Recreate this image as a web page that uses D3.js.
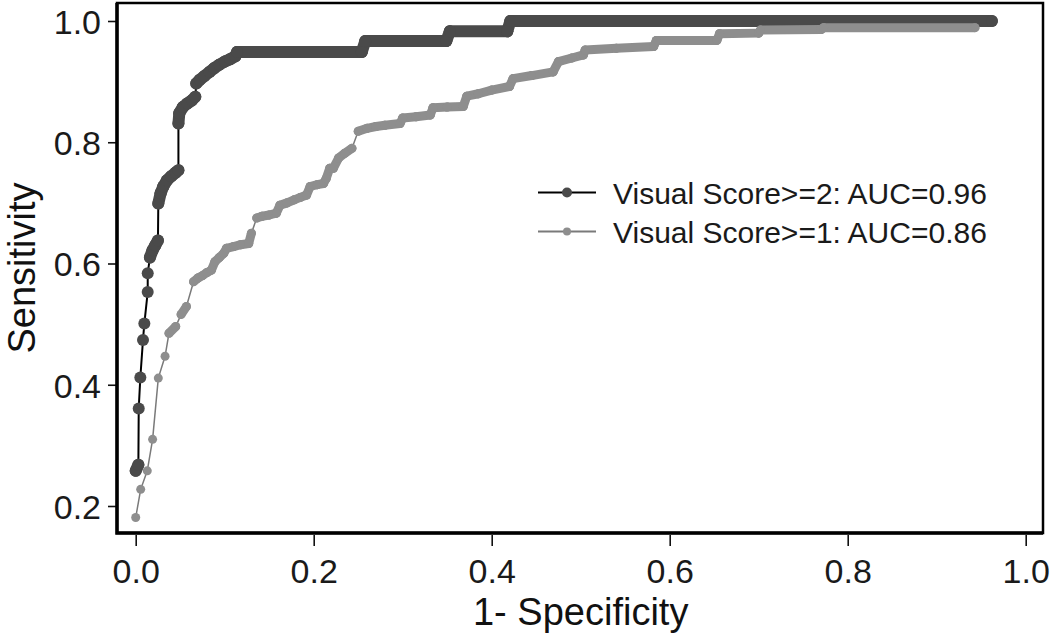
<!DOCTYPE html>
<html>
<head>
<meta charset="utf-8">
<script src="https://cdn.jsdelivr.net/npm/d3@7"></script>
<style>
  html, body { margin: 0; padding: 0; background: #fff; }
  svg { display: block; font-family: "Liberation Sans", Arial, sans-serif; }
</style>
</head>
<body>
<svg id="chart" width="1050" height="635"></svg>
<script>
// ---- Data ----
const xTicks = [0, 0.2, 0.4, 0.6, 0.8, 1.0];
const yTicks = [0.2, 0.4, 0.6, 0.8, 1.0];
const xTitle = "1- Specificity";
const yTitle = "Sensitivity";
const legendLabels = ["Visual Score>=2: AUC=0.96", "Visual Score>=1: AUC=0.86"];

// Visual Score >= 2 (dark)
const fprVS2 = [0.000, 0.003, 0.0034, 0.0052, 0.0082, 0.0097, 0.0135, 0.0135,
  0.016, 0.019, 0.022, 0.025, 0.0254,
  0.028, 0.031, 0.035, 0.040, 0.045, 0.048, 0.048,
  0.049, 0.053, 0.058, 0.063, 0.067, 0.068,
  0.072, 0.077, 0.083, 0.088, 0.094, 0.100, 0.106, 0.112, 0.114,
  0.254, 0.258, 0.349, 0.353, 0.4175, 0.421, 0.962];
const tprVS2 = [0.258, 0.268, 0.361, 0.412, 0.474, 0.501, 0.553, 0.584,
  0.610, 0.622, 0.630, 0.638, 0.699,
  0.716, 0.727, 0.737, 0.744, 0.750, 0.754, 0.831,
  0.848, 0.858, 0.864, 0.869, 0.875, 0.897,
  0.903, 0.909, 0.916, 0.922, 0.928, 0.933, 0.937, 0.942, 0.949,
  0.949, 0.967, 0.967, 0.983, 0.983, 1.000, 1.000];

// Visual Score >= 1 (light)
const fprVS1 = [0.000, 0.0056, 0.013, 0.019, 0.0254, 0.033, 0.0374, 0.045,
  0.051, 0.057, 0.065, 0.070, 0.075, 0.080, 0.085,
  0.089, 0.094, 0.099, 0.102, 0.110, 0.118, 0.127, 0.130,
  0.136, 0.142, 0.150, 0.158,
  0.162, 0.170, 0.178, 0.185, 0.192,
  0.196, 0.204, 0.211, 0.214, 0.218, 0.222,
  0.228, 0.235, 0.243, 0.250, 0.260, 0.270, 0.280, 0.297,
  0.300, 0.315, 0.331, 0.334, 0.350, 0.368,
  0.372, 0.385, 0.400, 0.420, 0.424, 0.445, 0.469,
  0.475, 0.490, 0.503, 0.505, 0.540, 0.582,
  0.585, 0.653, 0.656, 0.700, 0.702, 0.770, 0.773, 0.943];
const tprVS1 = [0.181, 0.2275, 0.258, 0.310, 0.411, 0.447, 0.485, 0.496,
  0.516, 0.529, 0.570, 0.576, 0.580, 0.585, 0.589,
  0.603, 0.610, 0.617, 0.625, 0.628, 0.631, 0.633, 0.650,
  0.675, 0.678, 0.680, 0.683,
  0.696, 0.700, 0.705, 0.709, 0.713,
  0.727, 0.730, 0.732, 0.740, 0.757, 0.757,
  0.774, 0.782, 0.790, 0.818, 0.823, 0.826, 0.828, 0.831,
  0.840, 0.842, 0.845, 0.857, 0.858, 0.859,
  0.876, 0.880, 0.886, 0.892, 0.905, 0.910, 0.916,
  0.933, 0.939, 0.944, 0.952, 0.955, 0.958,
  0.968, 0.968, 0.979, 0.980, 0.985, 0.986, 0.989, 0.989];

// ---- Layout ----
const svg = d3.select("#chart");
const box = { left: 117, right: 1043, top: 3, bottom: 533 };
const x = d3.scaleLinear().domain([0, 1]).range([135.7, 1025.7]);
const y = d3.scaleLinear().domain([0.2, 1]).range([506, 21]);

// Axes
const xAxis = d3.axisBottom(x).tickValues(xTicks).tickFormat(d3.format(".1f")).tickSize(11).tickSizeOuter(0);
const gx = svg.append("g").attr("transform", `translate(0,${box.bottom + 2})`).call(xAxis);
gx.select(".domain").remove();
gx.selectAll("line").attr("stroke", "#111").attr("stroke-width", 1.6);
gx.selectAll("text").attr("y", 48).attr("dy", null)
  .style("font-size", "34px").attr("fill", "#1a1a1a");

const yAxis = d3.axisLeft(y).tickValues(yTicks).tickFormat(d3.format(".1f")).tickSize(9).tickSizeOuter(0);
const gy = svg.append("g").attr("transform", `translate(${box.left},0)`).call(yAxis);
gy.select(".domain").remove();
gy.selectAll("line").attr("stroke", "#111").attr("stroke-width", 1.6);
gy.selectAll("text").attr("x", -16).attr("dy", "0.36em")
  .style("font-size", "34px").attr("fill", "#1a1a1a");

// Titles
svg.append("text").attr("x", (x(0) + x(1)) / 2).attr("y", 625)
  .attr("text-anchor", "middle").style("font-size", "38px").attr("fill", "#111").text(xTitle);
svg.append("text").attr("transform", `translate(35,${(box.top + box.bottom) / 2}) rotate(-90)`)
  .attr("text-anchor", "middle").style("font-size", "38px").attr("fill", "#111").text(yTitle);

// ---- Series ----
const plot = svg.append("g");
function drawSeries(fpr, tpr, r, fill, lineColor, lineW) {
  const pts = fpr.map((f, i) => [x(f), y(tpr[i])]);
  const g = plot.append("g");
  g.append("path").datum(pts).attr("d", d3.line())
    .attr("fill", "none").attr("stroke", lineColor).attr("stroke-width", lineW);
  // consecutive markers that overlap into a chain (small vertical step)
  const segs = [];
  for (let i = 1; i < pts.length; i++) {
    const dy = pts[i][1] - pts[i - 1][1];
    if (Math.abs(dy) <= 11) segs.push([pts[i - 1], pts[i]]);
  }
  g.selectAll("line.band").data(segs).join("line").attr("class", "band")
    .attr("x1", d => d[0][0]).attr("y1", d => d[0][1])
    .attr("x2", d => d[1][0]).attr("y2", d => d[1][1])
    .attr("stroke", fill).attr("stroke-width", 2 * r).attr("stroke-linecap", "round");
  g.selectAll("circle").data(pts).join("circle")
    .attr("cx", d => d[0]).attr("cy", d => d[1]).attr("r", r).attr("fill", fill);
}
drawSeries(fprVS2, tprVS2, 6, "#4a4a4a", "#000", 2);
drawSeries(fprVS1, tprVS1, 4.5, "#8e8e8e", "#7a7a7a", 1.5);

// Box
svg.append("rect").attr("x", box.left).attr("y", box.top)
  .attr("width", box.right - box.left).attr("height", box.bottom - box.top)
  .attr("fill", "none").attr("stroke", "#000").attr("stroke-width", 2.5);
svg.append("path").attr("d", `M${box.left},${box.top} V${box.bottom} H${box.right}`)
  .attr("fill", "none").attr("stroke", "#000").attr("stroke-width", 3.5);

// ---- Legend ----
const legend = svg.append("g");
const legStyles = [
  { r: 5, fill: "#4a4a4a", line: "#000", w: 2.2 },
  { r: 4, fill: "#8e8e8e", line: "#7a7a7a", w: 2 }
];
legendLabels.forEach((lab, i) => {
  const cy = 192.5 + i * 39;
  const st = legStyles[i];
  legend.append("line").attr("x1", 538).attr("x2", 596).attr("y1", cy).attr("y2", cy)
    .attr("stroke", st.line).attr("stroke-width", st.w);
  legend.append("circle").attr("cx", 567).attr("cy", cy).attr("r", st.r).attr("fill", st.fill);
  legend.append("text").attr("x", 613).attr("y", cy + 11)
    .style("font-size", "30px").attr("fill", "#1a1a1a").text(lab);
});
</script>
</body>
</html>
